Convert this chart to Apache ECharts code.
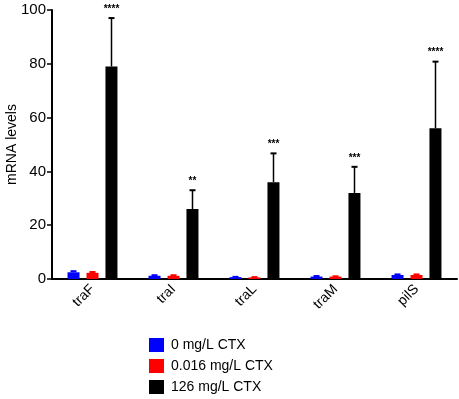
<!DOCTYPE html>
<html><head><meta charset="utf-8">
<script src="https://cdn.jsdelivr.net/npm/echarts@6/dist/echarts.min.js"></script>
<style>html,body{margin:0;padding:0;background:#fff}#c{width:459px;height:399px}</style>
</head><body><div id="c"></div>
<script>
var categories = ['traF', 'traI', 'traL', 'traM', 'pilS'];
var seriesNames = ['0 mg/L CTX', '0.016 mg/L CTX', '126 mg/L CTX'];
var ctx0 = [2.5, 1.2, 0.7, 0.9, 1.5];
var ctx0Err = [0.4, 0.2, 0.1, 0.2, 0.2];
var ctx016 = [2.3, 1.2, 0.6, 0.9, 1.5];
var ctx016Err = [0.3, 0.2, 0.1, 0.1, 0.2];
var ctx126 = [79, 26, 36, 32, 56];
var ctx126Err = [18, 7, 10.7, 9.7, 24.8];
var stars = ['****', '**', '***', '***', '****'];
var yTicks = [0, 20, 40, 60, 80, 100];
var colors = ['#0000ff', '#ff0000', '#000000'];

var FONT = 'Liberation Sans, Arial, sans-serif';
var BW = 12, OFF = 19;

function errSeries(vals, errs, k, withStars) {
  var data = vals.map(function (v, i) { return [i, v, v + errs[i]]; });
  return {
    type: 'custom', silent: true, z: 5,
    data: data,
    encode: { x: 0, y: [1, 2] },
    renderItem: function (params, api) {
      var i = api.value(0);
      var base = api.coord([i, api.value(1)]);
      var top = api.coord([i, api.value(2)]);
      var x = base[0] + (k - 1) * OFF;
      var col = k === 2 ? '#000' : colors[k];
      var children = [
        { type: 'line', shape: { x1: x, y1: base[1], x2: x, y2: top[1] }, style: { stroke: col, lineWidth: 1.5 } },
        { type: 'line', shape: { x1: x - 3, y1: top[1], x2: x + 3, y2: top[1] }, style: { stroke: col, lineWidth: 2 } }
      ];
      if (withStars) {
        children.push({ type: 'text', x: x, y: top[1] - 4, style: { text: stars[i], fill: '#000', font: 'bold 10px ' + FONT, align: 'center', verticalAlign: 'bottom' } });
      }
      return { type: 'group', children: children };
    }
  };
}

var chart = echarts.init(document.getElementById('c'), null, { renderer: 'canvas' });
chart.setOption({
  animation: false,
  backgroundColor: '#fff',
  grid: { left: 52, right: 2, top: 10, bottom: 120, containLabel: false, outerBoundsMode: 'none' },
  legend: {
    orient: 'vertical', left: 149, top: 338, height: 70, itemWidth: 15, itemHeight: 14, itemGap: 7,
    icon: 'rect', padding: 0,
    textStyle: { fontFamily: FONT, fontSize: 14, color: '#000', padding: [0, 0, 0, 2] },
    data: seriesNames
  },
  xAxis: {
    type: 'category', data: categories,
    axisLine: { lineStyle: { color: '#000', width: 2 } },
    axisTick: { alignWithLabel: true, length: 5, lineStyle: { color: '#000', width: 1.5 } },
    axisLabel: { rotate: 45, fontFamily: FONT, fontSize: 14, color: '#000', margin: 8 }
  },
  yAxis: {
    type: 'value', min: 0, max: 100, interval: 20,
    name: 'mRNA levels', nameLocation: 'middle', nameGap: 33, nameMoveOverlap: false,
    nameTextStyle: { fontFamily: FONT, fontSize: 14, color: '#000' },
    axisLine: { show: true, lineStyle: { color: '#000', width: 2 } },
    axisTick: { show: true, length: 5, lineStyle: { color: '#000', width: 1.5 } },
    splitLine: { show: false },
    axisLabel: { fontFamily: FONT, fontSize: 15, color: '#000', margin: 6,
      formatter: function (v) { return yTicks.indexOf(v) >= 0 ? String(v) : ''; } }
  },
  series: [
    { name: seriesNames[0], type: 'bar', data: ctx0, barWidth: BW, barGap: '58%', itemStyle: { color: colors[0] } },
    { name: seriesNames[1], type: 'bar', data: ctx016, barWidth: BW, barGap: '58%', itemStyle: { color: colors[1] } },
    { name: seriesNames[2], type: 'bar', data: ctx126, barWidth: BW, barGap: '58%', itemStyle: { color: colors[2] } },
    errSeries(ctx0, ctx0Err, 0, false),
    errSeries(ctx016, ctx016Err, 1, false),
    errSeries(ctx126, ctx126Err, 2, true)
  ]
});
</script></body></html>
